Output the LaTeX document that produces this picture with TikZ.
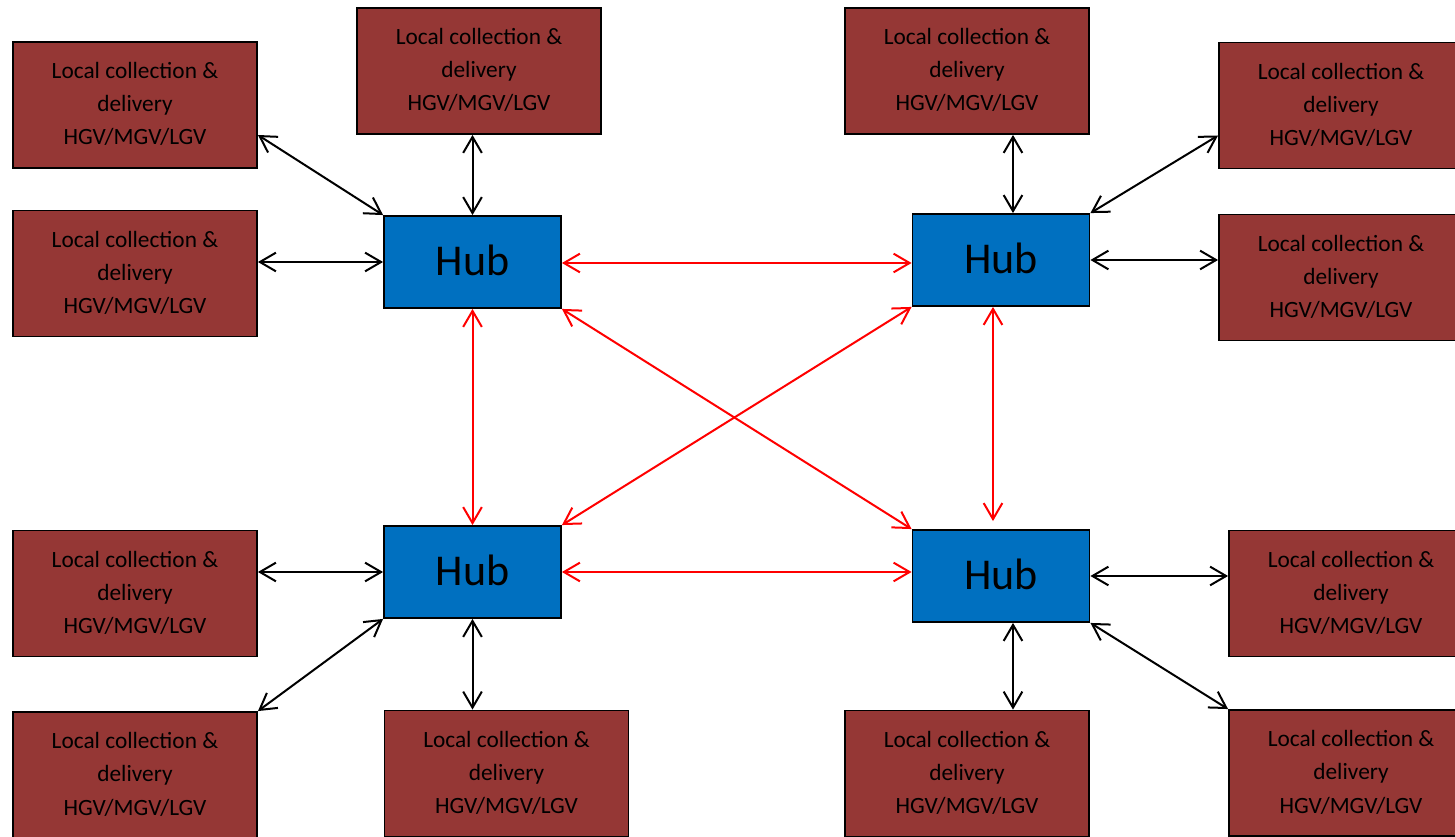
\documentclass[tikz,border=0pt]{standalone}
\usepackage{fontspec}
\setmainfont{Carlito}
\usetikzlibrary{arrows.meta,calc}
\definecolor{localred}{HTML}{953735}
\definecolor{hubblue}{HTML}{0070C0}
\definecolor{linkred}{HTML}{FF0000}
\tikzset{
  localbox/.style={draw=black, line width=1.4pt, fill=localred, minimum width=183pt,
    minimum height=94.5pt, inner sep=0pt, align=center,
    font=\fontsize{17.5}{25.5}\selectfont},
  hubbox/.style={draw=black, line width=1.4pt, fill=hubblue, minimum width=132.75pt,
    minimum height=69pt, inner sep=0pt, font=\fontsize{33}{38}\selectfont},
  road/.style={line width=1.5pt, draw=black, {Straight Barb[length=12pt,width=14pt]}-{Straight Barb[length=12pt,width=14pt]}},
  trunk/.style={line width=1.5pt, draw=linkred, {Straight Barb[length=12pt,width=14pt]}-{Straight Barb[length=12pt,width=14pt]}},
}
\newcommand{\lcd}{\raisebox{0.8pt}{\begin{tabular}{@{}c@{}}Local collection \&\\[-0.6pt]delivery\\[-0.6pt]HGV/MGV/LGV\end{tabular}}}
\newcommand{\hubtext}{\raisebox{3pt}{Hub}}
\begin{document}
\begin{tikzpicture}[x=0.75pt,y=-0.75pt]
\useasboundingbox (0,0) rectangle (1455,837);

% hubs
\node[hubbox] (H1) at (472.5,262) {\hubtext};
\node[hubbox] (H2) at (1001,260) {\hubtext};
\node[hubbox] (H3) at (472.5,572) {\hubtext};
\node[hubbox] (H4) at (1001,576) {\hubtext};

% local collection and delivery boxes
\node[localbox] (L1) at (135,105) {\lcd};
\node[localbox] (L2) at (135,273.5) {\lcd};
\node[localbox] (L3) at (135,593.5) {\lcd};
\node[localbox] (L4) at (135,775) {\lcd};
\node[localbox] (T1) at (479,71) {\lcd};
\node[localbox] (T2) at (967,71) {\lcd};
\node[localbox] (R1) at (1341,105.5) {\lcd};
\node[localbox] (R2) at (1341,277.5) {\lcd};
\node[localbox] (R3) at (1351,593.5) {\lcd};
\node[localbox] (R4) at (1351,773) {\lcd};
\node[localbox] (B1) at (506.5,773.5) {\lcd};
\node[localbox] (B2) at (967,773.5) {\lcd};

% helper points for offset links
\coordinate (H2n) at ([xshift=9pt]H2.north);
\coordinate (H4s) at ([xshift=9pt]H4.south);
\coordinate (H2s) at ([xshift=-6pt]H2.south);
\coordinate (H4gap) at ($(H2s |- H4.north)+(0,-8)$);

% local links
\draw[road] ([yshift=-22.5pt]L1.east) -- (H1.north west);
\draw[road] (L2.east |- H1.west) -- (H1.west);
\draw[road] (H1.north |- T1.south) -- (H1.north);
\draw[road] (H2n |- T2.south) -- (H2n);
\draw[road] ([yshift=-22.5pt]R1.west) -- (H2.north east);
\draw[road] (R2.west |- H2.east) -- (H2.east);
\draw[road] (L3.east |- H3.west) -- (H3.west);
\draw[road] (L4.north east) -- (H3.south west);
\draw[road] (H3.south |- B1.north) -- (H3.south);
\draw[road] (R3.west |- H4.east) -- (H4.east);
\draw[road] (H4s |- B2.north) -- (H4s);
\draw[road] (R4.north west) -- (H4.south east);

% trunk links between hubs
\draw[trunk] ([yshift=-0.75pt]H1.east) -- ([yshift=-0.75pt]H1.east -| H2.west);
\draw[trunk] (H1.south) -- (H3.north);
\draw[trunk] (H1.south east) -- (H4.north west);
\draw[trunk] (H2.south west) -- (H3.north east);
\draw[trunk] (H2s) -- (H4gap);
\draw[trunk] (H3.east) -- (H3.east -| H4.west);
\end{tikzpicture}
\end{document}
